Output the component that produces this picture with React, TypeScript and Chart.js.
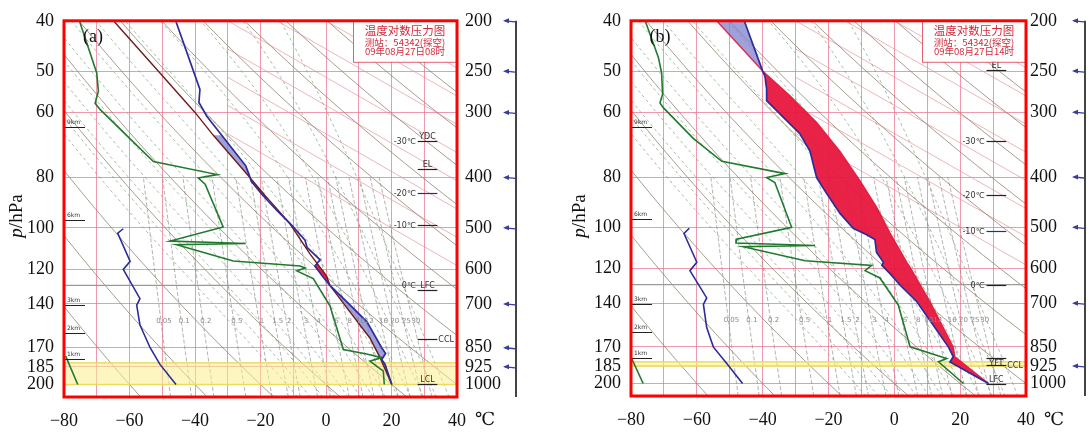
import React, { useEffect, useRef } from "react";
import { Chart, registerables } from "chart.js";

Chart.register(...registerables);

// ---------------- axes ----------------
const pressureTicks = [200, 250, 300, 400, 500, 600, 700, 850, 925, 1000];
const upperPressureTicks = [40, 50, 60, 80, 100, 120, 140, 170, 185, 200];
const temperatureGrid = [-80, -70, -60, -50, -40, -30, -20, -10, 0, 10, 20, 30, 40];
const temperatureLabels = [-80, -60, -40, -20, 0, 20, 40];
const P_TOP = 200;
const P_BOTTOM = 1057;
const UPPER_RATIO = 5;

// ---------------- panel (a) 08时 ----------------
const envPressA = [200, 271, 287, 305, 337, 380, 395, 407, 431, 463, 494, 528, 545, 576, 592, 620, 645, 700, 758, 850, 872, 895, 914, 1000];
const envTempA = [-45.9, -38.5, -38.8, -36.4, -31.0, -24.5, -23.5, -22.8, -19.6, -15.0, -10.5, -6.4, -5.8, -1.8, -3.4, -1.0, 1.2, 7.0, 12.5, 17.0, 18.2, 17.0, 18.0, 20.1];
const parcelPressA = [200, 252, 300, 332, 393, 437, 491, 561, 619, 645, 725, 814, 888, 1000];
const parcelTempA = [-64.9, -50.7, -40.0, -34.4, -24.3, -18.1, -11.0, -4.9, 0.2, 1.2, 7.3, 13.4, 16.5, 20.1];
const dewPressA = [200, 252, 273, 288, 296, 332, 373, 395, 401, 412, 498, 530, 536, 539, 579, 592, 597, 605, 626, 706, 857, 874, 888, 902, 943, 1000];
const dewTempA = [-75.3, -70.0, -69.5, -70.5, -69.0, -60.9, -52.7, -33.2, -39.0, -36.9, -31.4, -47.6, -24.5, -45.6, -28.3, -7.9, -6.4, -8.9, -3.9, 1.2, 5.3, 12.4, 17.0, 13.4, 17.5, 17.8];
const upperEnvPressA = [100.4, 102.4, 116, 120.2, 136.8, 140.8, 153.8, 170, 183, 200];
const upperEnvTempA = [-61.9, -63.6, -59.8, -61.9, -56.8, -57.8, -56.8, -53.7, -50.7, -45.8];
const upperDewPressA = [176.4, 200];
const upperDewTempA = [-79.5, -75.8];
const positiveLayersA = [[398, 440], [585, 645]];
const negativeLayersA = [[332, 398], [645, 1000]];
const moistBandA = [909, 1000];
const freezingLevelA = 645;
const barbPressA = [200, 250, 300, 400, 500, 700, 850, 925];
const marksA = [
  { p: 341, line: true, left: "-30℃", above: "YDC" },
  { p: 386, line: true, above: "EL" },
  { p: 429, line: true, left: "-20℃", navy: true },
  { p: 494, line: true, left: "-10℃" },
  { p: 645, line: false, left: "0℃" },
  { p: 657, line: true, above: "LFC" },
  { p: 816, line: true, right: "CCL" },
  { p: 1000, line: true, above: "LCL" },
];

// ---------------- panel (b) 14时 ----------------
const envPressB = [200, 250, 256, 271, 285, 307, 330, 357, 379, 401, 431, 470, 502, 517, 528, 559, 584, 592, 614, 646, 695, 850, 888, 909, 1000];
const envTempB = [-45.6, -40.0, -39.3, -38.8, -38.8, -33.7, -28.7, -25.6, -24.6, -23.6, -20.5, -16.5, -12.5, -8.4, -5.9, -5.4, -3.3, -3.8, -1.3, 1.7, 6.8, 16.4, 17.9, 16.9, 28.6];
const parcelPressB = [200, 250, 279, 314, 357, 407, 457, 513, 584, 600, 695, 850, 888, 1000];
const parcelTempB = [-54.0, -40.0, -31.7, -23.6, -16.5, -10.4, -5.4, -1.3, 3.8, 5.0, 10.8, 17.9, 18.4, 28.6];
const dewPressB = [200, 235, 252, 277, 288, 294, 337, 373, 394, 401, 410, 500, 527, 536, 542, 545, 580, 592, 606, 626, 706, 850, 895, 908, 1000];
const dewTempB = [-75.7, -71.7, -70.7, -70.4, -71.2, -70.2, -61.1, -52.4, -33.2, -38.8, -36.3, -31.2, -47.9, -48.1, -24.1, -45.9, -27.1, -6.9, -8.9, -4.4, 1.2, 4.8, 15.9, 13.4, 21.0];
const upperEnvPressB = [100.4, 102.8, 116.8, 121.2, 136.8, 140.8, 156, 170, 183, 200];
const upperEnvTempB = [-62.3, -63.9, -60.0, -62.1, -57.0, -58.0, -57.0, -55.0, -50.9, -46.1];
const upperDewPressB = [179, 200];
const upperDewTempB = [-79.8, -76.3];
const positiveLayersB = [[250, 1000]];
const negativeLayersB = [[200, 250]];
const moistBandB = [909, 925];
const freezingLevelB = 645;
const barbPressB = [200, 250, 300, 400, 500, 700, 925];
const marksB = [
  { p: 249, line: true, above: "EL" },
  { p: 341, line: true, left: "-30℃" },
  { p: 433, line: true, left: "-20℃" },
  { p: 508, line: true, left: "-10℃", navy: true },
  { p: 645, line: true, left: "0℃" },
  { p: 893, line: true, below: "YFT" },
  { p: 923, line: true, right: "CCL" },
  { p: 1000, line: true, above: "LFC" },
];

// ---------------- diagram background families ----------------
const dryAdiabatThetas = [-60, -40, -20, 0, 20, 40, 60, 80, 100, 120, 140, 160, 180, 200, 220];
const moistAdiabatStarts = [-12, -8, -4, 0, 4, 8, 12, 16, 20, 24, 28, 32, 36];
const mixingRatios = [0.05, 0.1, 0.2, 0.5, 1, 1.5, 2, 3, 4, 6, 8, 10, 12, 16, 20, 25, 30];
const pinkLineStarts = [-90, -75, -60, -45, -30, -15, 0, 15, 30];
const kmPress = [320, 482, 703, 796, 894];
const kmLabels = ["9km", "6km", "3km", "2km", "1km"];
const mixLabelPressure = 755;

// ---------------- helpers ----------------
const K = 273.15;
const SERIF = '"Liberation Serif", "DejaVu Serif", serif';
const CJK = '"Noto Sans CJK SC", sans-serif';
const SMALL = '"DejaVu Sans", sans-serif';

const toPts = (ps: number[], ts: number[]) => ps.map((p, i) => ({ x: ts[i], y: p }));

function interpAt(ps: number[], ts: number[], p: number) {
  for (let i = 0; i < ps.length - 1; i++) {
    if (p >= ps[i] && p <= ps[i + 1]) {
      const f = Math.log(p / ps[i]) / Math.log(ps[i + 1] / ps[i]);
      return ts[i] + f * (ts[i + 1] - ts[i]);
    }
  }
  return ts[ts.length - 1];
}

function layerSegment(ps: number[], ts: number[], top: number, bot: number) {
  const pts = [{ x: interpAt(ps, ts, top), y: top }];
  ps.forEach((p, i) => {
    if (p > top && p < bot) pts.push({ x: ts[i], y: p });
  });
  pts.push({ x: interpAt(ps, ts, bot), y: bot });
  return pts;
}

function layerPolygon(envP: number[], envT: number[], parP: number[], parT: number[], layer: number[]) {
  const a = layerSegment(envP, envT, layer[0], layer[1]);
  const b = layerSegment(parP, parT, layer[0], layer[1]).reverse();
  return [...a, ...b, a[0]];
}

function dryAdiabat(thetaC: number) {
  const th = thetaC + K;
  const pts = [];
  for (let i = 0; i <= 24; i++) {
    const p = P_TOP * Math.pow(P_BOTTOM / P_TOP, i / 24);
    pts.push({ x: th * Math.pow(p / 1000, 0.2857) - K, y: p });
  }
  return pts;
}

const satVap = (tc: number) => 6.112 * Math.exp((17.67 * tc) / (tc + 243.5));
function moistGradient(tk: number, p: number) {
  const es = satVap(tk - K);
  const rs = (0.622 * es) / (p - es);
  return (287.04 * tk + 2.501e6 * rs) / (1005.7 + (2.501e6 * 2.501e6 * rs * 0.622) / (287.04 * tk * tk));
}
function moistAdiabat(t0: number) {
  const pts = [];
  const n = 40;
  let tk = t0 + K;
  let lp = Math.log(1000);
  const h = (Math.log(P_TOP) - Math.log(1000)) / n;
  const hd = Math.log(P_BOTTOM / 1000);
  pts.push({ x: t0 + K + hd * moistGradient(t0 + K, 1000) - K, y: P_BOTTOM });
  pts.push({ x: t0, y: 1000 });
  for (let i = 0; i < n; i++) {
    const p = Math.exp(lp);
    const k1 = moistGradient(tk, p);
    const k2 = moistGradient(tk + (h / 2) * k1, Math.exp(lp + h / 2));
    tk += h * k2;
    lp += h;
    pts.push({ x: tk - K, y: Math.exp(lp) });
  }
  return pts;
}

function mixingRatioTemp(w: number, p: number) {
  const r = w / 1000;
  const es = (r * p) / (0.622 + r);
  const l = Math.log(es / 6.112);
  return (243.5 * l) / (17.67 - l);
}
function mixingRatioLine(w: number) {
  const pts = [];
  for (let i = 0; i <= 8; i++) {
    const p = P_BOTTOM * Math.pow(400 / P_BOTTOM, i / 8);
    pts.push({ x: mixingRatioTemp(w, p), y: p });
  }
  return pts;
}

function pinkLine(t200: number) {
  const slope = 120;
  const pStart = Math.max(P_TOP, P_TOP * Math.exp((-30 - t200) / slope));
  const pEnd = Math.min(P_BOTTOM, P_TOP * Math.exp((45 - t200) / slope));
  if (pEnd <= pStart) return [];
  return [
    { x: t200 + slope * Math.log(pStart / P_TOP), y: pStart },
    { x: t200 + slope * Math.log(pEnd / P_TOP), y: pEnd },
  ];
}

const minus = (v: number) => (v < 0 ? "\u2212" + Math.abs(v) : String(v));

// ---------------- panel specs ----------------
const panels = [
  {
    name: "a", tag: "(a)", left: 0, width: 545, leftW: 64, rightW: 88, bottomH: 35, leftPad: 10, rightPad: 8,
    env: [envPressA, envTempA], parcel: [parcelPressA, parcelTempA], dew: [dewPressA, dewTempA],
    upEnv: [upperEnvPressA, upperEnvTempA], upDew: [upperDewPressA, upperDewTempA],
    pos: positiveLayersA, neg: negativeLayersA, band: moistBandA, freeze: freezingLevelA,
    barbs: barbPressA, marks: marksA, time: "09年08月27日08时", parcelColor: "#6e1c1c",
  },
  {
    name: "b", tag: "(b)", left: 545, width: 546, leftW: 86, rightW: 65, bottomH: 36, leftPad: 10, rightPad: 4,
    env: [envPressB, envTempB], parcel: [parcelPressB, parcelTempB], dew: [dewPressB, dewTempB],
    upEnv: [upperEnvPressB, upperEnvTempB], upDew: [upperDewPressB, upperDewTempB],
    pos: positiveLayersB, neg: negativeLayersB, band: moistBandB, freeze: freezingLevelB,
    barbs: barbPressB, marks: marksB, time: "09年08月27日14时", parcelColor: "rgba(225,25,60,0.9)",
  },
];

function lineDs(data: any[], color: string, width: number, order: number, extra: any = {}) {
  return {
    type: "scatter", data, showLine: true, borderColor: color, borderWidth: width, pointRadius: 0,
    fill: false, tension: 0, order, yAxisID: "yR", ...extra,
  };
}

function buildConfig(pn: any) {
  const ds: any[] = [];
  // foreground profiles
  ds.push(lineDs(toPts(pn.env[0], pn.env[1]), "#2c2c9c", 1.7, 0));
  ds.push(lineDs(toPts(pn.dew[0], pn.dew[1]), "#1f7a2e", 1.6, 0));
  ds.push(lineDs(toPts(pn.parcel[0], pn.parcel[1]), pn.parcelColor, 1.4, 0));
  ds.push(lineDs(toPts(pn.upEnv[0], pn.upEnv[1]), "#2c2c9c", 1.6, 0, { yAxisID: "yL" }));
  ds.push(lineDs(toPts(pn.upDew[0], pn.upDew[1]), "#1f7a2e", 1.6, 0, { yAxisID: "yL" }));
  // energy areas
  pn.pos.forEach((layer: number[]) =>
    ds.push(lineDs(layerPolygon(pn.env[0], pn.env[1], pn.parcel[0], pn.parcel[1], layer), "rgba(0,0,0,0)", 0, 1, { fill: "shape", backgroundColor: "rgba(232,22,62,0.95)" }))
  );
  pn.neg.forEach((layer: number[]) =>
    ds.push(lineDs(layerPolygon(pn.env[0], pn.env[1], pn.parcel[0], pn.parcel[1], layer), "rgba(0,0,0,0)", 0, 1, { fill: "shape", backgroundColor: "rgba(128,128,205,0.75)" }))
  );
  // moist band
  const [b0, b1] = pn.band;
  ds.push(lineDs([{ x: -80, y: b0 }, { x: 40, y: b0 }, { x: 40, y: b1 }, { x: -80, y: b1 }, { x: -80, y: b0 }], "rgba(0,0,0,0)", 0, 2, { fill: "shape", backgroundColor: "rgba(252,238,140,0.55)" }));
  ds.push(lineDs([{ x: -80, y: b0 }, { x: 40, y: b0 }], "#e3d64a", 1.5, 2));
  ds.push(lineDs([{ x: -80, y: b1 }, { x: 40, y: b1 }], "#e3d64a", 1.5, 2));
  // freezing level
  ds.push(lineDs([{ x: -80, y: pn.freeze }, { x: 40, y: pn.freeze }], "#9a9a9a", 1.3, 2));
  // background
  dryAdiabatThetas.forEach((t) => ds.push(lineDs(dryAdiabat(t), "rgba(145,132,110,0.8)", 1, 3)));
  moistAdiabatStarts.forEach((t) => ds.push(lineDs(moistAdiabat(t), "rgba(120,160,120,0.75)", 0.9, 3, { borderDash: [3, 3] })));
  mixingRatios.forEach((w) => ds.push(lineDs(mixingRatioLine(w), "rgba(135,135,135,0.8)", 0.8, 3, { borderDash: [4, 2] })));
  pinkLineStarts.forEach((t) => ds.push(lineDs(pinkLine(t), "rgba(228,140,155,0.65)", 1, 3)));

  const tickFont = { family: SERIF, size: 18 };
  const pink = "rgba(232,110,140,0.7)";

  const decor = {
    id: "decor_" + pn.name,
    afterDraw(chart: any) {
      const { ctx, chartArea: ca, scales } = chart;
      const x = scales.x;
      const y = scales.yR;
      ctx.save();
      // mixing-ratio labels
      ctx.font = "7px " + SMALL;
      ctx.fillStyle = "#8a8a8a";
      ctx.textAlign = "center";
      ctx.textBaseline = "middle";
      const ly = y.getPixelForValue(mixLabelPressure);
      mixingRatios.forEach((w) => {
        ctx.fillText(String(w), x.getPixelForValue(mixingRatioTemp(w, mixLabelPressure)) + 3, ly);
      });
      // km marks
      kmPress.forEach((p, i) => {
        const yy = Math.round(y.getPixelForValue(p)) + 0.5;
        ctx.strokeStyle = "#222";
        ctx.lineWidth = 1;
        ctx.beginPath();
        ctx.moveTo(ca.left + 1, yy);
        ctx.lineTo(ca.left + 21, yy);
        ctx.stroke();
        ctx.font = "6px " + SMALL;
        ctx.fillStyle = "#333";
        ctx.textAlign = "left";
        ctx.fillText(kmLabels[i], ca.left + 3, yy - 5);
      });
      // level marks
      const x1 = x.getPixelForValue(28);
      const x2 = x.getPixelForValue(34);
      pn.marks.forEach((m: any) => {
        const yy = Math.round(y.getPixelForValue(m.p)) + 0.5;
        if (m.line) {
          ctx.strokeStyle = m.navy ? "#2a2a8a" : "#222";
          ctx.lineWidth = 1.2;
          ctx.beginPath();
          ctx.moveTo(x1, yy);
          ctx.lineTo(x2, yy);
          ctx.stroke();
        }
        ctx.font = "8px " + SMALL;
        ctx.fillStyle = "#333";
        ctx.textBaseline = "middle";
        if (m.left) { ctx.textAlign = "right"; ctx.fillText(m.left, x1 - 2, yy); }
        if (m.above) { ctx.textAlign = "center"; ctx.fillText(m.above, (x1 + x2) / 2, yy - 5); }
        if (m.below) { ctx.textAlign = "center"; ctx.fillText(m.below, (x1 + x2) / 2, yy + 5); }
        if (m.right) { ctx.textAlign = "left"; ctx.fillText(m.right, x2 + 1, yy); }
      });
      // title box
      const bw = 104, bh = 41;
      const bx = ca.right - bw;
      const by = ca.top;
      ctx.fillStyle = "#fff";
      ctx.fillRect(bx, by, bw, bh);
      ctx.strokeStyle = "rgba(225,80,100,0.9)";
      ctx.lineWidth = 1;
      ctx.strokeRect(bx + 0.5, by + 0.5, bw, bh);
      ctx.fillStyle = "#d22a3a";
      ctx.textAlign = "center";
      ctx.textBaseline = "middle";
      ctx.font = "11.5px " + CJK;
      ctx.fillText("温度对数压力图", bx + bw / 2, by + 9.5);
      ctx.font = "9.5px " + CJK;
      ctx.fillText("测站：54342(探空)", bx + bw / 2, by + 22);
      ctx.fillText(pn.time, bx + bw / 2, by + 30.5);
      // red frame
      ctx.strokeStyle = "#ff0000";
      ctx.lineWidth = 3;
      ctx.strokeRect(ca.left, ca.top, ca.right - ca.left, ca.bottom - ca.top);
      // panel tag
      ctx.fillStyle = "#111";
      ctx.font = "18px " + SERIF;
      ctx.textAlign = "center";
      ctx.textBaseline = "middle";
      ctx.fillText(pn.tag, ca.left + 29, 37);
      // degree sign
      ctx.fillText("℃", ca.right + 28, 420);
      // axis title p/hPa
      ctx.save();
      ctx.translate(ca.left - (pn.name === "a" ? 47 : 51), 216);
      ctx.rotate(-Math.PI / 2);
      ctx.font = "italic 19px " + SERIF;
      const w1 = ctx.measureText("p").width;
      ctx.font = "19px " + SERIF;
      const w2 = ctx.measureText("/hPa").width;
      const s = -(w1 + w2) / 2;
      ctx.textAlign = "left";
      ctx.font = "italic 19px " + SERIF;
      ctx.fillText("p", s, 0);
      ctx.font = "19px " + SERIF;
      ctx.fillText("/hPa", s + w1, 0);
      ctx.restore();
      // wind axis & barbs
      const ax = ca.right + 59;
      ctx.strokeStyle = "#444";
      ctx.lineWidth = 2;
      ctx.beginPath();
      ctx.moveTo(ax, ca.top);
      ctx.lineTo(ax, ca.bottom);
      ctx.stroke();
      ctx.strokeStyle = "#3b3b9b";
      ctx.fillStyle = "#3b3b9b";
      ctx.lineWidth = 1.3;
      pn.barbs.forEach((p: number) => {
        const yy = y.getPixelForValue(p);
        ctx.beginPath();
        ctx.moveTo(ax - 11, yy);
        ctx.lineTo(ax - 1, yy + 1);
        ctx.stroke();
        ctx.beginPath();
        ctx.moveTo(ax - 13, yy);
        ctx.lineTo(ax - 7, yy - 2.5);
        ctx.lineTo(ax - 7, yy + 2.5);
        ctx.closePath();
        ctx.fill();
      });
      ctx.restore();
    },
  };

  return {
    type: "scatter",
    data: { datasets: ds },
    options: {
      responsive: false,
      animation: false,
      devicePixelRatio: 1,
      events: [],
      layout: { autoPadding: false, padding: { left: 0, right: 0, top: 13, bottom: 0 } },
      plugins: { legend: { display: false }, tooltip: { enabled: false }, title: { display: false } },
      elements: { point: { radius: 0 }, line: { tension: 0 } },
      scales: {
        x: {
          type: "linear", min: -80, max: 40,
          afterBuildTicks: (sc: any) => { sc.ticks = temperatureGrid.map((v) => ({ value: v })); },
          afterFit: (sc: any) => { sc.height = pn.bottomH; },
          ticks: {
            autoSkip: false, maxRotation: 0, padding: 13, color: "#111", font: tickFont,
            callback: (v: any) => (temperatureLabels.includes(Number(v)) ? minus(Number(v)) : ""),
          },
          grid: { color: pink, lineWidth: 1, drawTicks: false },
          border: { display: false },
        },
        yR: {
          type: "logarithmic", position: "right", min: P_TOP, max: P_BOTTOM, reverse: true,
          afterBuildTicks: (sc: any) => { sc.ticks = pressureTicks.map((v) => ({ value: v })); },
          afterFit: (sc: any) => { sc.width = pn.rightW; },
          ticks: { autoSkip: false, padding: pn.rightPad, color: "#111", font: tickFont, callback: (v: any) => String(v) },
          grid: { color: pink, lineWidth: 1, drawTicks: false },
          border: { display: false },
        },
        yL: {
          type: "logarithmic", position: "left", min: P_TOP / UPPER_RATIO, max: P_BOTTOM / UPPER_RATIO, reverse: true,
          afterBuildTicks: (sc: any) => { sc.ticks = upperPressureTicks.map((v) => ({ value: v })); },
          afterFit: (sc: any) => { sc.width = pn.leftW; },
          ticks: { autoSkip: false, padding: pn.leftPad, color: "#111", font: tickFont, callback: (v: any) => String(v) },
          grid: { display: false, drawTicks: false },
          border: { display: false },
        },
      },
    },
    plugins: [decor],
  };
}

function SoundingPanel({ pn }: { pn: any }) {
  const ref = useRef<HTMLCanvasElement | null>(null);
  useEffect(() => {
    if (!ref.current) return;
    const chart = new Chart(ref.current, buildConfig(pn) as any);
    return () => chart.destroy();
  }, [pn]);
  return (
    <canvas
      ref={ref}
      width={pn.width}
      height={432}
      style={{ position: "absolute", left: pn.left, top: 0, width: pn.width, height: 432, display: "block" }}
    />
  );
}

export default function App() {
  return (
    <div style={{ position: "fixed", left: 0, top: 0, width: 1091, height: 432, background: "#fff", overflow: "hidden" }}>
      {panels.map((pn) => (
        <SoundingPanel key={pn.name} pn={pn} />
      ))}
    </div>
  );
}
